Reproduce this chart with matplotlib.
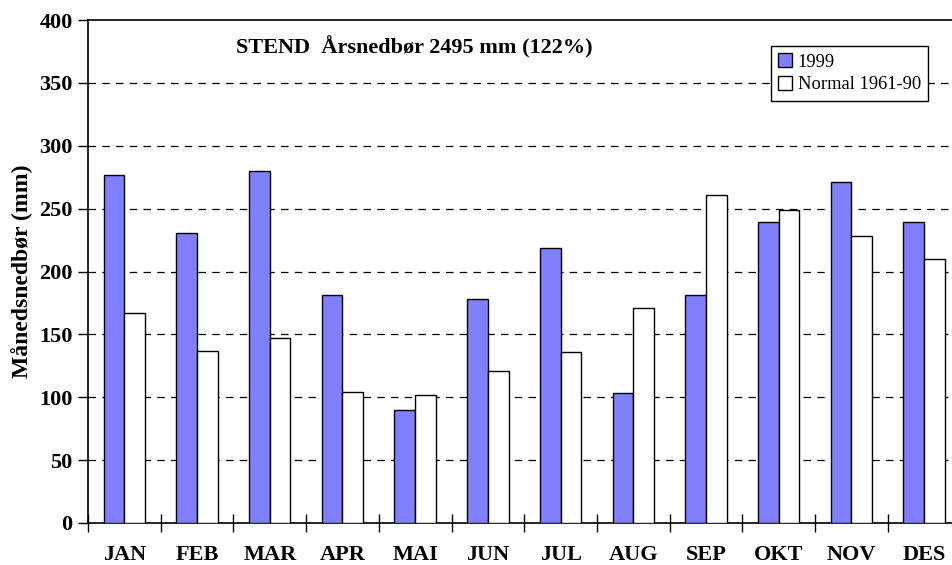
import matplotlib
matplotlib.use("Agg")
import matplotlib.pyplot as plt
import numpy as np

months = ["JAN", "FEB", "MAR", "APR", "MAI", "JUN", "JUL", "AUG", "SEP", "OKT", "NOV", "DES"]
precip_1999 = [277, 231, 280, 181, 90, 178, 219, 103, 181, 239, 271, 239]
normal_1961_90 = [167, 137, 147, 104, 102, 121, 136, 171, 261, 249, 228, 210]
yticks = [0, 50, 100, 150, 200, 250, 300, 350, 400]

plt.rcParams["font.family"] = ["Liberation Serif", "DejaVu Serif"]

fig = plt.figure(figsize=(9.52, 5.65), dpi=100)
ax = fig.add_axes([88 / 952, 42 / 565, 872.4 / 952, 503 / 565])

x = np.arange(len(months))
w = 0.285
ax.bar(x - w / 2, precip_1999, width=w, color="#8080FF", edgecolor="black",
       linewidth=1.0, label="1999", zorder=3)
ax.bar(x + w / 2, normal_1961_90, width=w, color="white", edgecolor="black",
       linewidth=1.0, label="Normal 1961-90", zorder=3)

ax.set_xlim(-0.5, len(months) - 0.5)
ax.set_ylim(0, 400)
ax.set_yticks(yticks)
ax.set_yticklabels([str(v) for v in yticks], fontsize=16, fontweight="bold")
for v in yticks[1:-1]:
    ax.axhline(v, color="black", linestyle=(0, (6, 5)), linewidth=0.9, zorder=1)

ax.set_xticks(x)
ax.set_xticklabels(months, fontsize=16, fontweight="bold")
ax.tick_params(axis="x", which="major", length=0, pad=15.5)
ax.set_xticks(np.arange(-0.5, len(months), 1.0), minor=True)
ax.tick_params(axis="x", which="minor", direction="inout", length=13, width=1)
ax.tick_params(axis="y", direction="out", length=7, width=1, pad=4)

for s in ax.spines.values():
    s.set_linewidth(1.2)

ax.set_ylabel("Månedsnedbør (mm)", fontsize=17, fontweight="bold")
ax.yaxis.set_label_coords(-(88 - 33) / 872.4, 0.5)

fig.text(236 / 952, 1 - 47 / 565, "STEND  Årsnedbør 2495 mm (122%)",
         fontsize=16, fontweight="bold", va="center", ha="left")

leg = ax.legend(loc="upper left", bbox_to_anchor=((771 - 88) / 872.4, (523 - 46) / 503),
                fontsize=13.3, frameon=True, fancybox=False, edgecolor="black",
                framealpha=1, handlelength=0.75, handleheight=0.75, handletextpad=0.3,
                borderpad=0.4, labelspacing=0.3, borderaxespad=0)
leg.get_frame().set_linewidth(1.0)
leg.set_zorder(5)

fig.savefig("out.png", dpi=100)
